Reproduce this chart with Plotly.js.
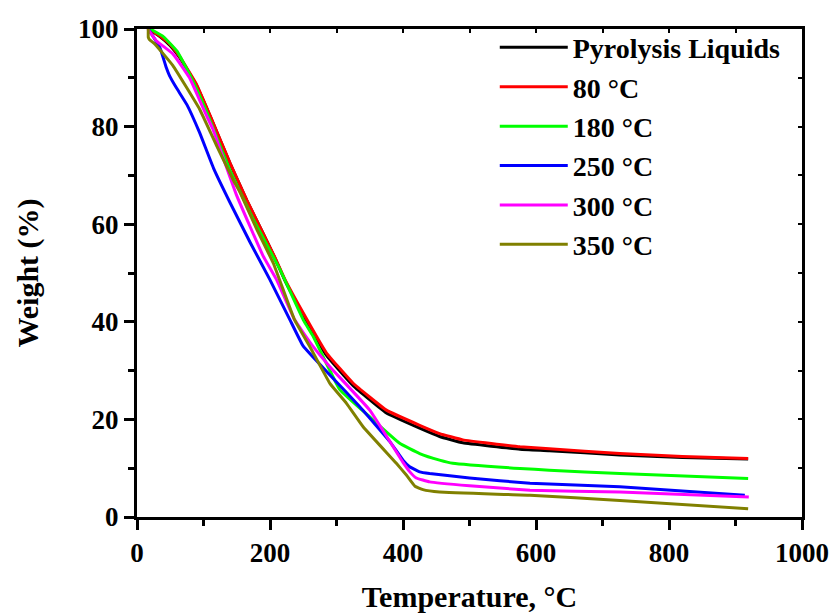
<!DOCTYPE html>
<html>
<head>
<meta charset="utf-8">
<script src="https://cdn.plot.ly/plotly-3.0.1.min.js"></script>
<style>
html,body{margin:0;padding:0;background:#fff;}
#chart{width:837px;height:613px;}
</style>
</head>
<body>
<div id="chart"></div>
<script>
// ---- data ----
const seriesNames = ["Pyrolysis Liquids", "80 \u00B0C", "180 \u00B0C", "250 \u00B0C", "300 \u00B0C", "350 \u00B0C"];
const seriesColors = ["#000000", "#ff0000", "#00ff00", "#0000ff", "#ff00ff", "#808000"];

const pyroX = [18, 34, 50, 64, 89, 112, 140, 165, 190, 207, 222, 250, 285, 325, 375, 425, 455, 490, 576, 620, 726, 820, 919];
const pyroY = [100, 98.5, 96.6, 94.2, 88.6, 81.5, 72.4, 64.9, 58.0, 53.2, 48.6, 41.4, 33.1, 26.9, 21.3, 18.2, 16.5, 15.2, 13.9, 13.6, 12.7, 12.2, 11.9];

const t80X = [18, 34, 50, 64, 89, 112, 140, 165, 190, 207, 222, 250, 285, 325, 375, 425, 455, 490, 576, 620, 726, 820, 919];
const t80Y = [100, 98.6, 96.8, 94.4, 88.8, 81.6, 72.5, 65.0, 58.0, 53.3, 48.8, 41.8, 33.6, 27.4, 21.9, 18.8, 17.1, 15.8, 14.4, 14.0, 13.0, 12.4, 12.0];

const t180X = [20, 40, 60, 80, 104, 140, 175, 215, 250, 265, 305, 350, 395, 425, 455, 475, 576, 620, 726, 919];
const t180Y = [100, 98.4, 95.5, 90.5, 83.3, 71.0, 61.0, 50.7, 40.4, 37.0, 26.1, 20.5, 15.1, 13.0, 11.65, 11.0, 9.94, 9.6, 8.9, 7.9];

const t250X = [17, 25, 35, 44, 49, 59, 75, 94, 115, 140, 170, 200, 230, 250, 290, 335, 380, 400, 410, 425, 440, 500, 591, 726, 914];
const t250Y = [100, 98.3, 96.0, 92.1, 90.4, 88.0, 84.5, 78.8, 71.5, 64.4, 56.3, 48.6, 40.4, 35.0, 29.1, 22.6, 15.5, 11.65, 10.3, 9.25, 8.9, 8.0, 6.9, 6.2, 4.45];

const t300X = [16, 29, 54, 79, 102, 114, 149.5, 189.6, 210, 237, 265, 290, 350, 400, 410, 420, 440, 500, 591, 726, 920];
const t300Y = [100, 97.6, 94.9, 90.0, 83.0, 79.5, 66.0, 53.5, 48.6, 40.4, 34.9, 30.8, 21.9, 11.2, 9.3, 8.0, 7.2, 6.4, 5.5, 5.1, 4.1];

const t350X = [17, 17, 19, 27, 54, 94, 120, 145, 155, 180, 205, 237, 260, 290, 315, 340, 390, 405, 418, 430, 455, 591, 726, 919];
const t350Y = [100.2, 98.3, 97.8, 96.9, 92.5, 83.6, 76.0, 69.0, 66.5, 59.0, 52.0, 40.4, 34.9, 27.4, 23.3, 18.5, 11.0, 8.6, 6.3, 5.6, 5.1, 4.45, 3.4, 1.7];

const xTickVals = [0, 200, 400, 600, 800, 1000];
const yTickVals = [0, 20, 40, 60, 80, 100];

const xTitle = "Temperature, \u00B0C";
const yTitle = "Weight (%)";

// ---- build the figure ----
const allX = [pyroX, t80X, t180X, t250X, t300X, t350X];
const allY = [pyroY, t80Y, t180Y, t250Y, t300Y, t350Y];

const FONT = "Liberation Serif";

const traces = seriesNames.map((n, i) => ({
  type: "scatter", mode: "lines", name: n,
  x: allX[i], y: allY[i],
  line: {color: seriesColors[i], width: 3, shape: "spline", smoothing: 0.3},
  xaxis: "x", yaxis: "y"
}));
traces.push({type: "scatter", mode: "lines", x: [], y: [], xaxis: "x2", yaxis: "y2", showlegend: false, hoverinfo: "skip"});

const layout = {
  width: 837, height: 613,
  margin: {l: 137, r: 35, t: 29, b: 96},
  paper_bgcolor: "#ffffff", plot_bgcolor: "#ffffff",
  showlegend: true,
  font: {family: FONT, color: "#000", weight: "bold"},
  xaxis: {
    range: [0, 1000], tickvals: xTickVals, ticktext: xTickVals.map(String),
    ticks: "outside", ticklen: 10, tickwidth: 3, tickcolor: "#000",
    minor: {dtick: 100, ticks: "outside", ticklen: 6, tickwidth: 3, tickcolor: "#000"},
    showline: true, linewidth: 3, linecolor: "#000", showgrid: false, zeroline: false,
    tickfont: {family: FONT, size: 27, color: "#000", weight: "bold"},
    title: {text: xTitle, font: {family: FONT, size: 30, color: "#000", weight: "bold"}, standoff: 19},
    automargin: false
  },
  yaxis: {
    range: [0, 100], tickvals: yTickVals, ticktext: yTickVals.map(String),
    ticks: "outside", ticklen: 10, tickwidth: 3, tickcolor: "#000",
    minor: {dtick: 10, ticks: "outside", ticklen: 6, tickwidth: 3, tickcolor: "#000"},
    showline: true, linewidth: 3, linecolor: "#000", showgrid: false, zeroline: false,
    tickfont: {family: FONT, size: 27, color: "#000", weight: "bold"},
    title: {text: yTitle, font: {family: FONT, size: 30, color: "#000", weight: "bold"}, standoff: 31},
    automargin: false
  },
  xaxis2: {
    overlaying: "x", side: "top", anchor: "y2", range: [0, 1000], dtick: 100, tick0: 0,
    ticks: "inside", ticklen: 4, tickwidth: 2, tickcolor: "#000",
    showticklabels: false, showline: true, linewidth: 3, linecolor: "#000", showgrid: false, zeroline: false
  },
  yaxis2: {
    overlaying: "y", side: "right", anchor: "x2", range: [0, 100], dtick: 10, tick0: 0,
    ticks: "inside", ticklen: 4, tickwidth: 2, tickcolor: "#000",
    showticklabels: false, showline: true, linewidth: 3, linecolor: "#000", showgrid: false, zeroline: false
  },
  legend: {
    x: 0.538, y: 1.013, xanchor: "left", yanchor: "top",
    bgcolor: "rgba(0,0,0,0)", borderwidth: 0,
    font: {family: FONT, size: 28, color: "#000", weight: "bold"},
    itemwidth: 68, tracegroupgap: 0
  }
};

Plotly.newPlot("chart", traces, layout, {staticPlot: true, displayModeBar: false});
</script>
</body>
</html>
